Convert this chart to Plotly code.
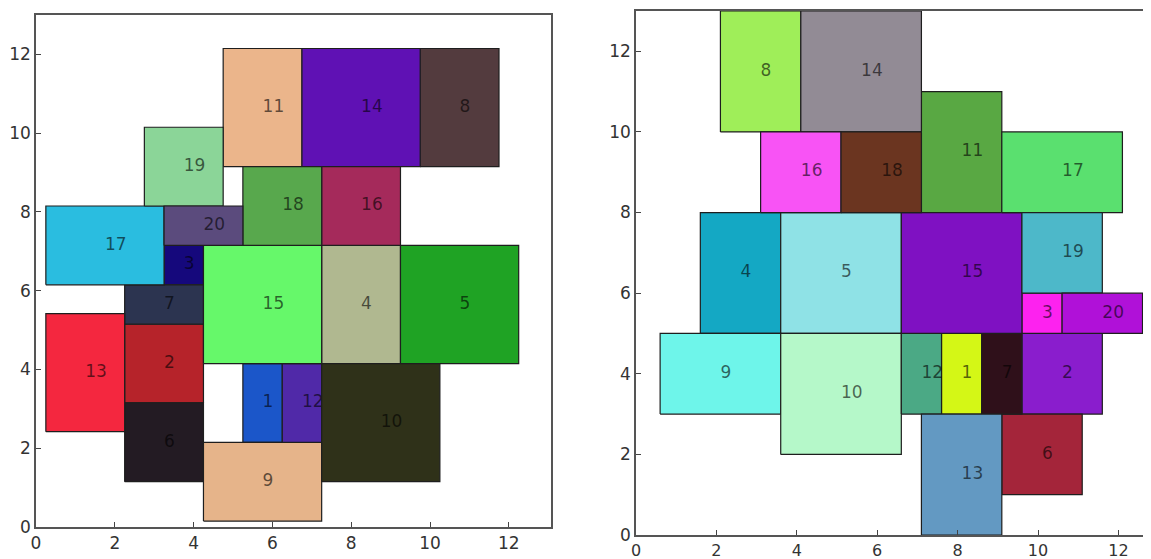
import plotly.graph_objects as go

# ---------------- Left layout ----------------
L_ids = [1, 2, 3, 4, 5, 6, 7, 8, 9, 11, 12, 10, 13, 14, 15, 16, 17, 18, 19, 20]
L_x0 = [5.25, 2.25, 3.25, 7.25, 9.25, 2.25, 2.25, 9.75, 4.25, 4.75, 6.25, 7.25, 0.25, 6.75, 4.25, 7.25, 0.25, 5.25, 2.75, 3.25]
L_x1 = [6.25, 4.25, 4.25, 9.25, 12.25, 4.25, 4.25, 11.75, 7.25, 6.75, 7.25, 10.25, 2.25, 9.75, 7.25, 9.25, 3.25, 7.25, 4.75, 5.25]
L_y0 = [2.15, 3.15, 6.15, 4.15, 4.15, 1.15, 5.15, 9.15, 0.15, 9.15, 2.15, 1.15, 2.42, 9.15, 4.15, 7.15, 6.15, 7.15, 8.15, 7.15]
L_y1 = [4.15, 5.15, 7.15, 7.15, 7.15, 3.15, 6.15, 12.15, 2.15, 12.15, 4.15, 4.15, 5.42, 12.15, 7.15, 9.15, 8.15, 9.15, 10.15, 8.15]
L_col = ["#1b56c9", "#b6232a", "#15087c", "#b0b890", "#1fa324", "#231b23", "#2c3450", "#533b3e",
         "#e6b48a", "#ebb58b", "#5029a8", "#2f3119", "#f4273f", "#5f11b4", "#66f86a", "#a52a5b",
         "#2abde0", "#58a84d", "#8bd598", "#5b4b7d"]

# ---------------- Right layout ----------------
R_ids = [1, 2, 3, 4, 5, 6, 7, 8, 9, 10, 11, 12, 13, 14, 15, 16, 17, 18, 19, 20]
R_x0 = [7.6, 9.6, 9.6, 1.6, 3.6, 9.1, 8.6, 2.1, 0.6, 3.6, 7.1, 6.6, 7.1, 4.1, 6.6, 3.1, 9.1, 5.1, 9.6, 10.6]
R_x1 = [8.6, 11.6, 10.6, 3.6, 6.6, 11.1, 9.6, 4.1, 3.6, 6.6, 9.1, 7.6, 9.1, 7.1, 9.6, 5.1, 12.1, 7.1, 11.6, 12.6]
R_y0 = [3, 3, 5, 5, 5, 1, 3, 10, 3, 2, 8, 3, 0, 10, 5, 8, 8, 8, 6, 5]
R_y1 = [5, 5, 6, 8, 8, 3, 5, 13, 5, 5, 11, 5, 3, 13, 8, 10, 10, 10, 8, 6]
R_col = ["#d4f716", "#8a1dcd", "#fd22ef", "#14a8c4", "#8fe2e6", "#a4253a", "#2f101a", "#9fee59",
         "#6ef5ea", "#b5f8c9", "#59a843", "#4ba985", "#6399c2", "#928b95", "#7f11c2", "#f853f5",
         "#5ae06f", "#6b3520", "#4db8c9", "#b011d8"]

LABEL_COLOR = "rgba(0,0,0,0.6)"
FONT = "DejaVu Sans"

fig = go.Figure()


def add_rects(ids, x0s, x1s, y0s, y1s, cols, xa, ya):
    for i, a, b, c, d, col in zip(ids, x0s, x1s, y0s, y1s, cols):
        fig.add_trace(go.Scatter(
            x=[a, b, b, a, a], y=[c, c, d, d, c], mode="lines", fill="toself",
            fillcolor=col, line=dict(color="#1e1e1e", width=1.2),
            xaxis=xa, yaxis=ya, showlegend=False, hoverinfo="skip"))
        fig.add_trace(go.Scatter(
            x=[(a + b) / 2], y=[(c + d) / 2], mode="text", text=[str(i)],
            textposition="middle right",
            textfont=dict(family=FONT, size=17, color=LABEL_COLOR),
            xaxis=xa, yaxis=ya, showlegend=False, hoverinfo="skip"))


add_rects(L_ids, L_x0, L_x1, L_y0, L_y1, L_col, "x", "y")
add_rects(R_ids, R_x0, R_x1, R_y0, R_y1, R_col, "x2", "y2")

# page has an 8px body margin, so the figure is 8px smaller and shifted
W, H = 1143, 551
OFF = 8
tick_vals = [0, 2, 4, 6, 8, 10, 12]
axis_common = dict(
    tickvals=tick_vals, ticktext=[str(v) for v in tick_vals],
    ticks="inside", ticklen=5, tickwidth=1.2, tickcolor="#444",
    showline=True, linecolor="#555", linewidth=1.5,
    showgrid=False, zeroline=False, automargin=False,
    tickfont=dict(family=FONT, size=17, color="#333"),
)

fig.update_layout(
    width=W, height=H, margin=dict(l=0, r=0, t=0, b=0),
    paper_bgcolor="white", plot_bgcolor="white",
    xaxis=dict(domain=[(36 - OFF) / W, (551 - OFF) / W], range=[0, 13.07], mirror=True, anchor="y", **axis_common),
    yaxis=dict(domain=[(H - (527 - OFF)) / H, (H - (15 - OFF)) / H], range=[0, 13.0], mirror=True, anchor="x", **axis_common),
    xaxis2=dict(domain=[(636 - OFF) / W, 1.0], range=[0, (1151 - 636) / 40.2], mirror=True, anchor="y2",
                **{**axis_common, "tickfont": dict(family=FONT, size=16, color="#333")}),
    yaxis2=dict(domain=[(H - (535 - OFF)) / H, (H - (11 - OFF)) / H], range=[0, 13.0], mirror=False, anchor="x2", **axis_common),
)

fig.write_html("out.html")
